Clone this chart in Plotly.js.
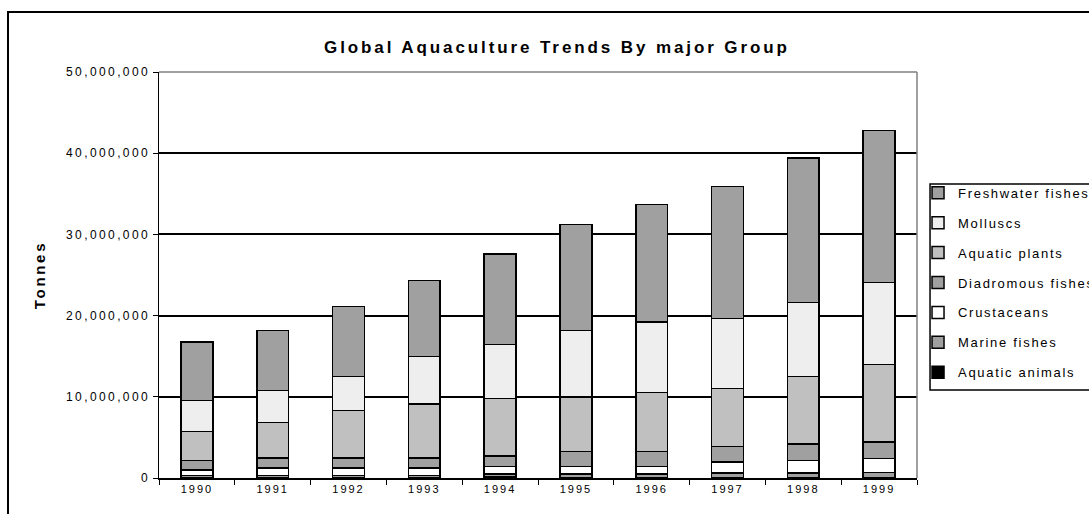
<!DOCTYPE html>
<html>
<head>
<meta charset="utf-8">
<script src="https://cdn.plot.ly/plotly-3.0.1.min.js"></script>
<style>
  html, body { margin: 0; padding: 0; background: #fff; }
  #wrap { position: relative; width: 1089px; height: 514px; overflow: hidden; }
  #chart { position: absolute; left: 0; top: 0; width: 1089px; height: 514px; }
  #frame { position: absolute; left: 7px; top: 11px; width: 1200px; height: 600px; border: 2px solid #000; pointer-events: none; box-sizing: border-box; }
  .gtitle { letter-spacing: 2.9px; }
  .ytitle { letter-spacing: 2.7px; }
  .ytick text { letter-spacing: 2.4px; }
  .xtick text { letter-spacing: 2px; }
  .legendtext { letter-spacing: 1.7px; }
</style>
</head>
<body>
<div id="wrap">
  <div id="chart"></div>
  <div id="frame"></div>
</div>
<script>
// Data (tonnes)
const years = ['1990','1991','1992','1993','1994','1995','1996','1997','1998','1999'];
const aquaticAnimals   = [50000, 50000, 50000, 50000, 100000, 50000, 50000, 50000, 50000, 50000];
const marineFishes     = [250000, 250000, 250000, 250000, 400000, 440000, 440000, 570000, 570000, 600000];
const crustaceans      = [680000, 930000, 930000, 930000, 930000, 940000, 940000, 1350000, 1550000, 1730000];
const diadromousFishes = [1150000, 1220000, 1220000, 1220000, 1280000, 1810000, 1810000, 1920000, 2020000, 2050000];
const aquaticPlants    = [3610000, 4400000, 5880000, 6660000, 7090000, 6760000, 7300000, 7110000, 8320000, 9520000];
const molluscs         = [3780000, 3940000, 4180000, 5870000, 6650000, 8180000, 8670000, 8660000, 9120000, 10140000];
const freshwaterFishes = [7230000, 7390000, 8620000, 9350000, 11140000, 13010000, 14450000, 16250000, 17780000, 18720000];

const seriesNames  = ['Aquatic animals','Marine fishes','Crustaceans','Diadromous fishes','Aquatic plants','Molluscs','Freshwater fishes'];
const seriesValues = [aquaticAnimals, marineFishes, crustaceans, diadromousFishes, aquaticPlants, molluscs, freshwaterFishes];
const seriesColors = ['#000000','#a0a0a0','#ffffff','#a0a0a0','#c0c0c0','#eeeeee','#a0a0a0'];

const traces = seriesNames.map((name, i) => ({
  type: 'bar',
  name: name,
  x: years,
  y: seriesValues[i],
  legendgroup: 'g' + i,
  legendrank: 1000 + (seriesNames.length - i),
  marker: { color: seriesColors[i], line: { color: '#000', width: 1.5 } },
  hoverinfo: 'x+y+name'
}));

const layout = {
  width: 1089,
  height: 514,
  margin: { l: 159, r: 172, t: 72, b: 36, pad: 0, autoexpand: false },
  paper_bgcolor: '#fff',
  plot_bgcolor: '#fff',
  font: { family: 'Liberation Sans, Arial, sans-serif', color: '#000', size: 12 },
  barmode: 'stack',
  bargap: 0.58,
  showlegend: true,
  title: {
    text: 'Global Aquaculture Trends By major Group',
    font: { size: 17, weight: 700, color: '#000' },
    xref: 'paper', x: 0.525, xanchor: 'center',
    yref: 'container', y: 0.9086, yanchor: 'middle'
  },
  xaxis: {
    type: 'category',
    tickson: 'boundaries',
    ticks: 'outside', ticklen: 5, tickcolor: '#000', tickwidth: 1,
    showline: true, linecolor: '#000', linewidth: 1.5,
    showgrid: false, zeroline: false,
    tickfont: { size: 11 },
    automargin: false,
    fixedrange: true
  },
  yaxis: {
    range: [0, 50000000],
    dtick: 10000000,
    tickformat: ',d',
    ticks: 'outside', ticklen: 5, tickcolor: '#000', tickwidth: 1,
    showline: true, linecolor: '#000', linewidth: 1.5,
    showgrid: true, gridcolor: '#000', gridwidth: 2,
    zeroline: false,
    tickfont: { size: 12 },
    title: { text: 'Tonnes', font: { size: 15, weight: 700 }, standoff: 17 },
    automargin: false,
    fixedrange: true
  },
  legend: {
    xref: 'container', x: 0.843, xanchor: 'left',
    yref: 'container', y: 0.654, yanchor: 'top',
    traceorder: 'grouped',
    tracegroupgap: 10,
    bgcolor: 'rgba(0,0,0,0)',
    borderwidth: 0,
    font: { size: 13 },
    valign: 'middle'
  },
  shapes: [
    // gray top/right plot border
    { type: 'line', xref: 'paper', yref: 'paper', x0: 0, x1: 1, y0: 1, y1: 1, line: { color: '#808080', width: 1.5 }, layer: 'above' },
    { type: 'line', xref: 'paper', yref: 'paper', x0: 1, x1: 1, y0: 0, y1: 1, line: { color: '#808080', width: 1.5 }, layer: 'above' },
    // legend box
    { type: 'rect', xref: 'paper', yref: 'paper', x0: 1.0172, x1: 1.4, y0: 0.2167, y1: 0.7241, line: { color: '#000', width: 1.5 }, fillcolor: 'rgba(0,0,0,0)', layer: 'below' }
  ]
};

Plotly.newPlot('chart', traces, layout, { staticPlot: true, displayModeBar: false });
</script>
</body>
</html>
